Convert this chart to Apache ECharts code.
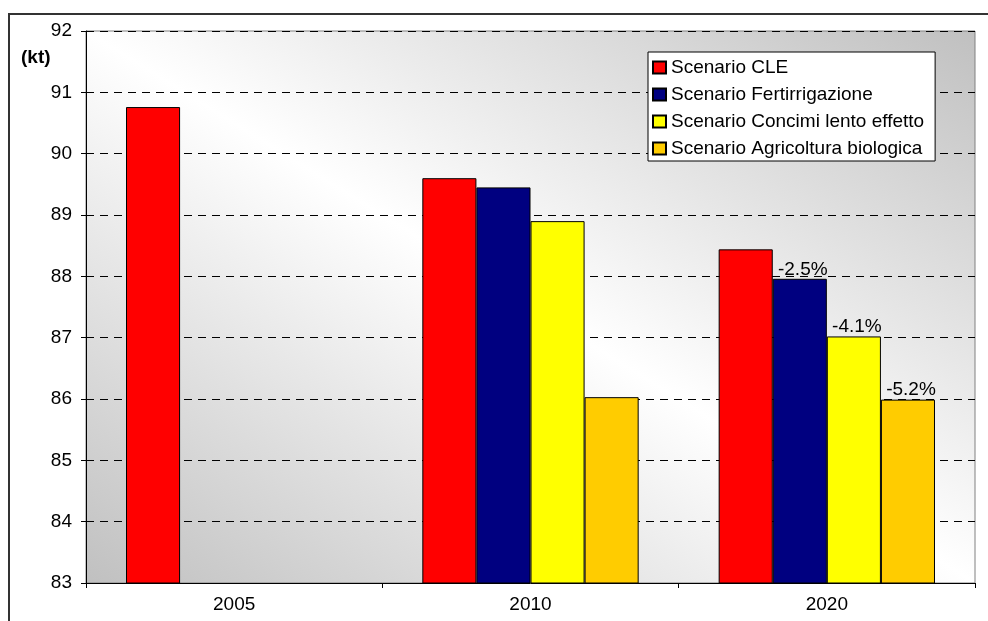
<!DOCTYPE html>
<html>
<head>
<meta charset="utf-8">
<script src="https://cdn.jsdelivr.net/npm/echarts@6/dist/echarts.min.js"></script>
<style>
html,body{margin:0;padding:0;background:#fff;}
#chart{width:988px;height:621px;}
</style>
</head>
<body>
<div id="chart"></div>
<script>
var categories = ['2005', '2010', '2020'];
var seriesNames = ['Scenario CLE', 'Scenario Fertirrigazione', 'Scenario Concimi lento effetto', 'Scenario Agricoltura biologica'];
var cleValues = [90.76, 89.60, 88.44];
var fertValues = [null, 89.45, 87.96];
var concimiValues = [null, 88.90, 87.02];
var agriValues = [null, 86.03, 85.99];
var cleLabels = ['', '', ''];
var fertLabels = ['', '', '-2.5%'];
var concimiLabels = ['', '', '-4.1%'];
var agriLabels = ['', '', '-5.2%'];
var yTicks = [83, 84, 85, 86, 87, 88, 89, 90, 91, 92];
var unitLabel = '(kt)';

var FONT = 'Arial, "Liberation Sans", sans-serif';
var colors = ['#ff0000', '#000080', '#ffff00', '#ffcc00'];

// diagonal gradient: isolines parallel to top-left/bottom-right diagonal
var W = 889, H = 552, D2 = W * W + H * H;
var gx0 = 0.5 - H * H / D2, gy0 = 0.5 + W * W / D2;
var gx1 = 0.5 + H * H / D2, gy1 = 0.5 - W * W / D2;

function makeSeries(i, values, labels) {
  return {
    name: seriesNames[i],
    type: 'bar',
    data: values.map(function (v) { return v === null ? '-' : v; }),
    itemStyle: { color: colors[i], borderColor: '#000', borderWidth: 1 },
    barGap: '0%',
    barCategoryGap: '27%',
    label: {
      show: true,
      position: 'top',
      distance: 0,
      offset: [3, 0],
      color: '#000',
      fontFamily: FONT,
      fontSize: 19,
      formatter: function (p) { return labels[p.dataIndex] || ''; }
    },
    emphasis: { disabled: true }
  };
}

var chart = echarts.init(document.getElementById('chart'), null, { renderer: 'canvas' });
chart.setOption({
  animation: false,
  backgroundColor: '#ffffff',
  textStyle: { fontFamily: FONT },
  title: {
    text: unitLabel,
    left: 21,
    top: 48,
    padding: 0,
    textStyle: { fontFamily: FONT, fontSize: 19, fontWeight: 'bold', color: '#000' }
  },
  graphic: [{
    type: 'rect',
    shape: { x: 9, y: 14, width: 1000, height: 700 },
    style: { fill: 'none', stroke: '#333', lineWidth: 2 },
    silent: true
  }],
  grid: {
    left: 86, right: 13, top: 31, bottom: 38,
    show: true,
    borderColor: '#808080',
    borderWidth: 1,
    backgroundColor: new echarts.graphic.LinearGradient(gx0, gy0, gx1, gy1, [
      { offset: 0, color: '#c0c0c0' },
      { offset: 0.5, color: '#ffffff' },
      { offset: 1, color: '#c0c0c0' }
    ])
  },
  legend: {
    orient: 'vertical',
    left: 648,
    top: 52,
    backgroundColor: '#ffffff',
    borderColor: '#000',
    borderWidth: 1,
    padding: [6, 11, 3, 4],
    icon: 'rect',
    itemWidth: 13,
    itemHeight: 12,
    itemGap: 8,
    selectedMode: false,
    textStyle: { fontFamily: FONT, fontSize: 19, color: '#000' },
    data: seriesNames
  },
  xAxis: {
    type: 'category',
    data: categories,
    axisLine: { lineStyle: { color: '#000', width: 1 } },
    axisTick: { show: true, length: 5, lineStyle: { color: '#000' } },
    axisLabel: { color: '#000', fontFamily: FONT, fontSize: 19, margin: 12 }
  },
  yAxis: {
    type: 'value',
    min: yTicks[0],
    max: yTicks[yTicks.length - 1],
    interval: 1,
    axisLine: { show: true, lineStyle: { color: '#000', width: 1 } },
    axisTick: { show: true, length: 5, lineStyle: { color: '#000' } },
    axisLabel: { color: '#000', fontFamily: FONT, fontSize: 19, margin: 14 },
    splitLine: { show: true, lineStyle: { color: '#000', type: [8, 6], width: 1 } }
  },
  series: [
    makeSeries(0, cleValues, cleLabels),
    makeSeries(1, fertValues, fertLabels),
    makeSeries(2, concimiValues, concimiLabels),
    makeSeries(3, agriValues, agriLabels)
  ]
});
</script>
</body>
</html>
